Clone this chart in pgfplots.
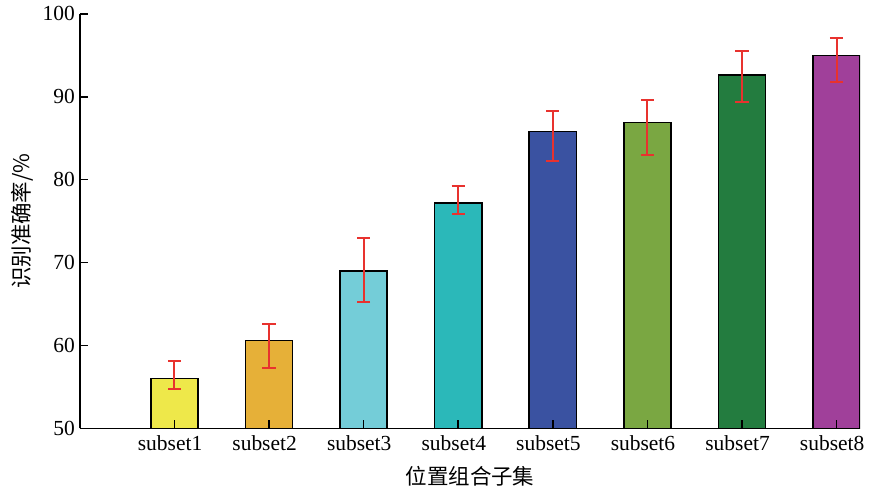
\documentclass[border=0pt]{standalone}
\usepackage{pgfplots}
\pgfplotsset{compat=1.18}
\usepackage{fontspec}
\setmainfont{Liberation Serif}
\newfontfamily\cjk{Noto Sans CJK SC}
\definecolor{c1}{HTML}{EEE84A}
\definecolor{c2}{HTML}{E6B038}
\definecolor{c3}{HTML}{74CDD8}
\definecolor{c4}{HTML}{2BB8B9}
\definecolor{c5}{HTML}{3A52A1}
\definecolor{c6}{HTML}{7AA742}
\definecolor{c7}{HTML}{237C3F}
\definecolor{c8}{HTML}{A0409A}
\definecolor{errred}{HTML}{E8322E}
\pgfplotsset{
  barstyle/.style={ybar, bar width=0.5, bar shift=0pt, draw=black, line width=0.8pt,
    error bars/y dir=both, error bars/y explicit,
    error bars/error bar style={draw=errred, line width=1pt},
    error bars/error mark options={draw=errred, mark size=3.3pt, line width=1pt, rotate=90}},
}
\begin{document}
\begin{tikzpicture}
\begin{axis}[
  width=392.5pt, height=208.5pt, scale only axis,
  xmin=0, xmax=8.25, ymin=50, ymax=100,
  set layers, axis on top,
  axis x line*=bottom, axis y line*=left,
  axis line style={-, line width=0.7pt, black},
  tick align=inside, major tick length=4pt,
  xtick style={draw=black, line width=0.8pt},
  ytick style={draw=black, line width=0.8pt},
  xtick={1,...,8},
  xticklabels={subset1,subset2,subset3,subset4,subset5,subset6,subset7,subset8},
  ytick={50,60,70,80,90,100},
  /pgf/number format/assume math mode=true,
  ticklabel style={font=\fontsize{10.8}{12}\selectfont},
  xticklabel style={xshift=-2.2pt},
  yticklabel style={xshift=1pt},
  xlabel={\cjk 位置组合子集},
  ylabel={\cjk 识别准确率/\%},
  label style={font=\fontsize{10.8}{12}\selectfont},
  xlabel style={yshift=-1pt},
  ylabel style={inner ysep=5.5pt, yshift=-4.2pt},
]
\addplot[barstyle, fill=c1] coordinates {(1,56.0) += (0,2.1) -= (0,1.2)};
\addplot[barstyle, fill=c2] coordinates {(2,60.6) += (0,2.0) -= (0,3.3)};
\addplot[barstyle, fill=c3] coordinates {(3,69.0) += (0,4.0) -= (0,3.8)};
\addplot[barstyle, fill=c4] coordinates {(4,77.2) += (0,2.0) -= (0,1.3)};
\addplot[barstyle, fill=c5] coordinates {(5,85.8) += (0,2.5) -= (0,3.5)};
\addplot[barstyle, fill=c6] coordinates {(6,86.9) += (0,2.7) -= (0,3.9)};
\addplot[barstyle, fill=c7] coordinates {(7,92.6) += (0,2.9) -= (0,3.2)};
\addplot[barstyle, fill=c8] coordinates {(8,95.0) += (0,2.1) -= (0,3.2)};
% tick marks drawn over the bars
\addplot[ycomb, draw=black, line width=0.8pt, mark=none, forget plot]
  coordinates {(1,51.05) (2,51.05) (3,51.05) (4,51.05) (5,51.05) (6,51.05) (7,51.05) (8,51.05)};
\end{axis}
\end{tikzpicture}
\end{document}
